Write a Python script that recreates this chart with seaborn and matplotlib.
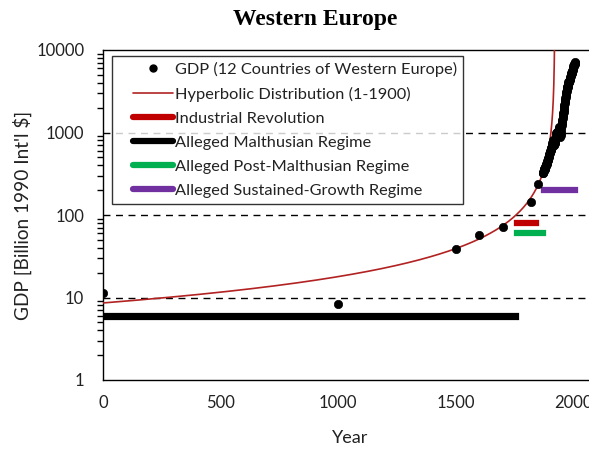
import numpy as np
import pandas as pd
import matplotlib
matplotlib.use("Agg")
import matplotlib.pyplot as plt
from matplotlib.lines import Line2D
from matplotlib.legend_handler import HandlerLine2D
from matplotlib.ticker import LogLocator, FixedLocator, NullFormatter, FuncFormatter
import seaborn as sns

# GDP of 12 Western European countries, billion 1990 Int'l $
early_years = [1, 1000, 1500, 1600, 1700, 1820, 1850]
early_gdp = [11.3, 8.4, 38.5, 56.5, 71.0, 143.0, 238.0]

modern_years = list(range(1870, 2009))
modern_gdp = [
    320, 322, 335, 342, 350, 356, 358, 362, 366, 365,
    378, 385, 395, 400, 404, 410, 416, 428, 436, 448,
    458, 462, 474, 482, 496, 508, 522, 530, 548, 566,
    580, 584, 596, 612, 622, 640, 656, 676, 682, 700,
    714, 738, 770, 800, 740, 730, 745, 720, 715, 700,
    740, 745, 800, 810, 860, 895, 910, 950, 985, 1010,
    990, 950, 935, 960, 985, 1010, 1050, 1090, 1110, 1150,
    1090, 1110, 1090, 1070, 1000, 870, 940, 990, 1070, 1160,
    1250, 1320, 1370, 1430, 1510, 1600, 1670, 1740, 1790, 1870,
    1990, 2090, 2180, 2270, 2400, 2500, 2590, 2680, 2810, 2980,
    3120, 3220, 3340, 3520, 3590, 3550, 3710, 3800, 3910, 4050,
    4110, 4110, 4150, 4220, 4310, 4420, 4540, 4670, 4860, 5030,
    5170, 5230, 5280, 5230, 5380, 5520, 5610, 5750, 5910, 6080,
    6310, 6420, 6490, 6540, 6700, 6820, 6950, 7050, 7100,
]

# Hyperbolic fit GDP = C / (T0 - t), fitted over 1-1900
hyper_C = 16500.0
hyper_T0 = 1921.0

# Regime periods
regime_labels = ["Industrial Revolution", "Alleged Malthusian Regime",
                 "Alleged Post-Malthusian Regime", "Alleged Sustained-Growth Regime"]
regime_start = [1760, 0, 1760, 1875]
regime_end = [1840, 1750, 1870, 2008]
regime_level = [80, 6, 60, 200]
regime_colors = ["#c00000", "#000000", "#00b050", "#7030a0"]

CURVE_COLOR = "#b22222"
TEXT_COLOR = "#222222"


class OffsetLineHandler(HandlerLine2D):
    """Draws the legend key only over the right part of the handle box."""

    def __init__(self, frac=0.27, **kw):
        super().__init__(**kw)
        self.frac = frac

    def create_artists(self, legend, orig_handle, xdescent, ydescent, width,
                       height, fontsize, trans):
        shift = width * self.frac
        return super().create_artists(legend, orig_handle, xdescent - shift,
                                      ydescent, width - shift, height,
                                      fontsize, trans)


sns.set_theme(style="white")
plt.rcParams["font.family"] = ["Lato", "DejaVu Sans"]

fig = plt.figure(figsize=(5.89, 4.5), dpi=100)
ax_w_px = 2100 * 0.2352
ax = fig.add_axes([103 / 589, 70 / 450, ax_w_px / 589, 330 / 450])

gdp = pd.DataFrame({
    "year": early_years + modern_years,
    "gdp": early_gdp + modern_gdp,
})

t = np.linspace(0, hyper_T0 - hyper_C / 30000.0, 4000)
hyper = pd.DataFrame({"year": t, "gdp": hyper_C / (hyper_T0 - t)})

# dashed reference lines at decades
for lvl in [10, 100, 1000]:
    ax.axhline(lvl, color="black", lw=1.0, ls=(0, (5, 4)), zorder=1)

# regime bars
for s, e, lvl, c in zip(regime_start, regime_end, regime_level, regime_colors):
    lw = 5.2 if c == "#000000" else 4.5
    ax.plot([s, e], [lvl, lvl], color=c, lw=lw, solid_capstyle="projecting", zorder=2)

sns.lineplot(data=hyper, x="year", y="gdp", ax=ax, color=CURVE_COLOR, lw=1.2,
             zorder=3, legend=False, estimator=None, sort=False)
sns.scatterplot(data=gdp, x="year", y="gdp", ax=ax, color="black", s=36,
                edgecolor="black", linewidth=0.5, zorder=4, legend=False)

ax.set_yscale("log")
ax.set_ylim(1, 10000)
ax.set_xlim(0, 2100)
ax.xaxis.set_major_locator(FixedLocator([0, 500, 1000, 1500, 2000]))
ax.yaxis.set_major_locator(FixedLocator([1, 10, 100, 1000, 10000]))
ax.yaxis.set_major_formatter(FuncFormatter(lambda v, p: f"{int(v)}"))
ax.yaxis.set_minor_locator(LogLocator(base=10, subs=np.arange(2, 10)))
ax.yaxis.set_minor_formatter(NullFormatter())

for sp in ax.spines.values():
    sp.set_color("black")
    sp.set_linewidth(1.0)

ax.tick_params(axis="both", which="major", direction="inout", length=7, width=1,
               color="black", labelsize=12, labelcolor=TEXT_COLOR)
ax.tick_params(axis="y", which="minor", direction="out", length=4, width=1,
               color="black", left=True)
ax.tick_params(axis="x", which="major", pad=7)
ax.tick_params(axis="y", which="major", pad=10)

ax.set_xlabel("Year", fontsize=13, color=TEXT_COLOR, labelpad=14)
ax.set_ylabel("GDP [Billion 1990 Int'l $]", fontsize=13.7, color=TEXT_COLOR)
ax.yaxis.set_label_coords(-(103 - 32.5) / ax_w_px, 0.5)

fig.text(315 / 589, 1 - 25 / 450, "Western Europe", ha="center", va="baseline",
         fontsize=17, fontweight="bold", family="Liberation Serif", color="black")

handles = [
    Line2D([], [], ls="none", marker="o", color="black", markersize=5),
    Line2D([], [], color=CURVE_COLOR, lw=1.2),
] + [Line2D([], [], color=c, lw=4.5) for c in regime_colors]
labels = ["GDP (12 Countries of Western Europe)", "Hyperbolic Distribution (1-1900)"] + regime_labels

leg = ax.legend(handles, labels, loc="upper left",
                bbox_to_anchor=(8.7 / ax_w_px, 1 - 6 / 330), bbox_transform=ax.transAxes,
                fontsize=11.8, frameon=True, fancybox=False, edgecolor="black",
                handlelength=3.39, handletextpad=0.1, labelspacing=0.58,
                borderpad=0.37, borderaxespad=0,
                handler_map={Line2D: OffsetLineHandler(frac=0.27)})
leg.get_frame().set_linewidth(1.0)
for txt in leg.get_texts():
    txt.set_color(TEXT_COLOR)

fig.savefig("out.png", dpi=100)
